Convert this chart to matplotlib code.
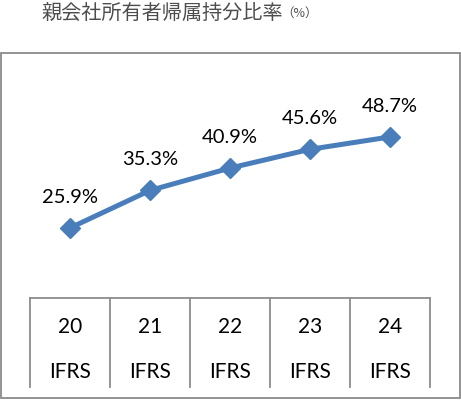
import matplotlib
matplotlib.use('Agg')
import matplotlib.pyplot as plt
from matplotlib.patches import Rectangle

years = ['20', '21', '22', '23', '24']
standard = ['IFRS', 'IFRS', 'IFRS', 'IFRS', 'IFRS']
ratio = [25.9, 35.3, 40.9, 45.6, 48.7]

W, H = 461, 400
fig = plt.figure(figsize=(W / 100, H / 100), dpi=100)
ax = fig.add_axes([0, 0, 1, 1])
ax.set_xlim(-0.875, 4.8875)
ax.set_ylim(-17.2, 83.0)
ax.axis('off')

blue = '#4a7ebb'
gray = '#8c8c8c'

# outer frame (pixel coords, y from top)
def px(x, y):
    return x / W, 1 - y / H

x0, y0 = px(1, 398)
x1, y1 = px(460, 53)
fig.patches.append(Rectangle((x0, y0), x1 - x0, y1 - y0, transform=fig.transFigure,
                             fill=False, edgecolor='#8a8a8a', lw=1.3))

# line
xs = range(len(ratio))
ax.plot(xs, ratio, color=blue, lw=3.6, marker='D', markersize=10,
        markeredgecolor=blue, markerfacecolor=blue, zorder=3)
for i, v in enumerate(ratio):
    ax.annotate(f'{v}%', (i, v), xytext=(0, 22), textcoords='offset points',
                ha='center', va='center', fontsize=14.5, family='Lato', color='black')

# category table
top = 298
bot = 387
ax.plot([px(30, 0)[0], px(430, 0)[0]], [1 - top / H] * 2, transform=ax.transAxes,
        color=gray, lw=1.3)
for k in range(len(years) + 1):
    xk = (30 + 80 * k) / W
    ax.plot([xk, xk], [1 - top / H, 1 - bot / H], transform=ax.transAxes,
            color=gray, lw=1.3)
for i, (yr, st) in enumerate(zip(years, standard)):
    xc = (70 + 80 * i) / W
    ax.text(xc, 1 - 327 / H, yr, transform=ax.transAxes, ha='center', va='center',
            fontsize=15, family='Lato', color='black')
    ax.text(xc, 1 - 372 / H, st, transform=ax.transAxes, ha='center', va='center',
            fontsize=15, family='Lato', color='black')

# title
fig.text(41 / W, 1 - 13 / H, '親会社所有者帰属持分比率', ha='left', va='center',
         fontsize=14.5, family=['Noto Sans CJK JP', 'DejaVu Sans'], color='#4d4d4d')
fig.text(281 / W, 1 - 13 / H, '（%）', ha='left', va='center',
         fontsize=9, family=['Noto Sans CJK JP', 'DejaVu Sans'], color='#4d4d4d')

fig.savefig('out.png', dpi=100)
